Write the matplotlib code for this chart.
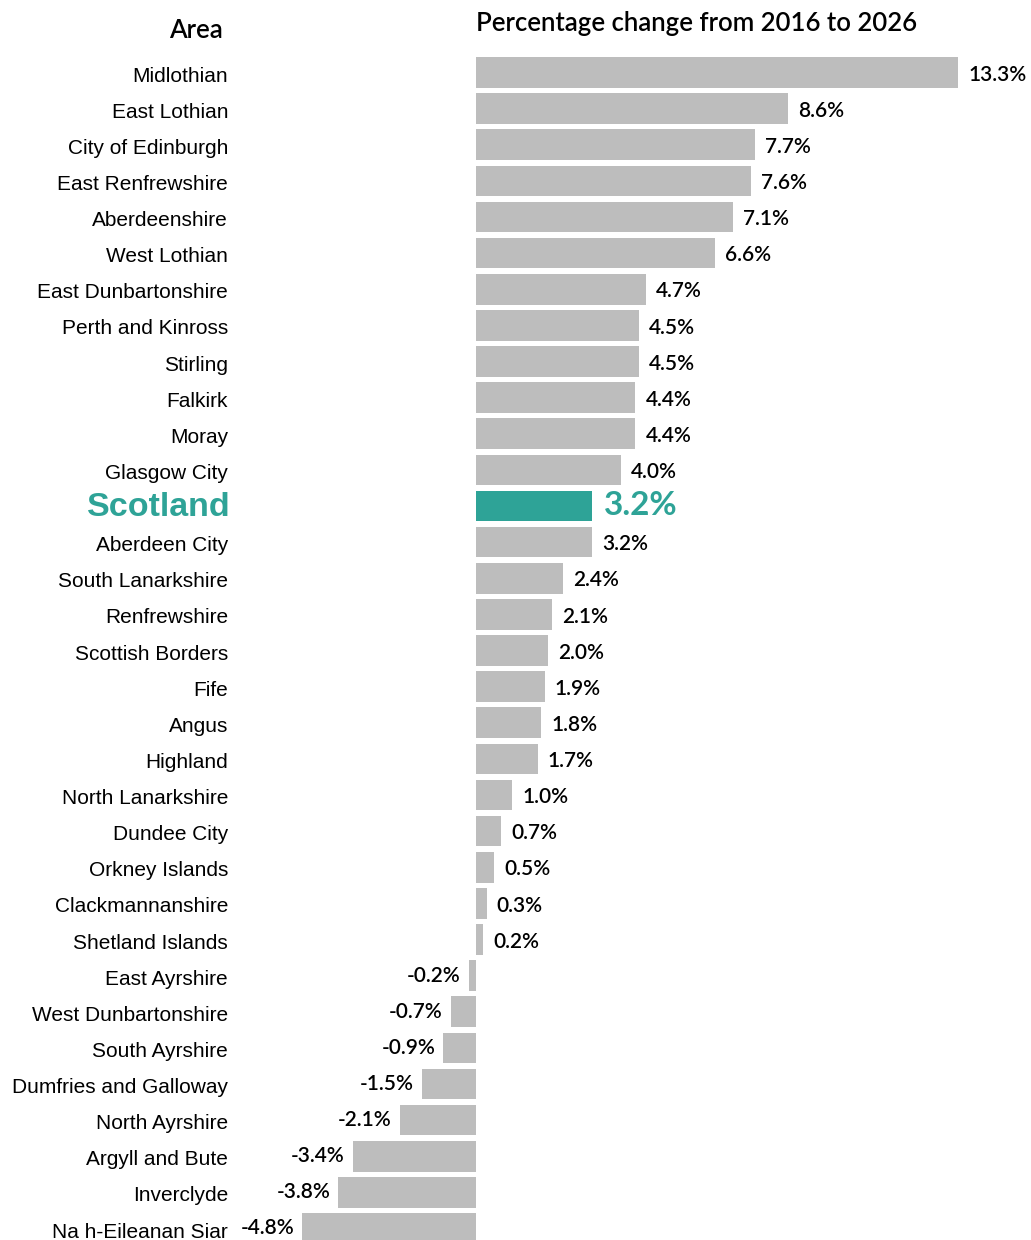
import matplotlib
matplotlib.use('Agg')
import matplotlib.pyplot as plt
import numpy as np

# data
areas = ['Midlothian', 'East Lothian', 'City of Edinburgh', 'East Renfrewshire',
         'Aberdeenshire', 'West Lothian', 'East Dunbartonshire', 'Perth and Kinross',
         'Stirling', 'Falkirk', 'Moray', 'Glasgow City', 'Scotland', 'Aberdeen City',
         'South Lanarkshire', 'Renfrewshire', 'Scottish Borders', 'Fife', 'Angus',
         'Highland', 'North Lanarkshire', 'Dundee City', 'Orkney Islands',
         'Clackmannanshire', 'Shetland Islands', 'East Ayrshire', 'West Dunbartonshire',
         'South Ayrshire', 'Dumfries and Galloway', 'North Ayrshire', 'Argyll and Bute',
         'Inverclyde', 'Na h-Eileanan Siar']
change = [13.3, 8.6, 7.7, 7.6, 7.1, 6.6, 4.7, 4.5, 4.5, 4.4, 4.4, 4.0, 3.2, 3.2,
          2.4, 2.1, 2.0, 1.9, 1.8, 1.7, 1.0, 0.7, 0.5, 0.3, 0.2, -0.2, -0.7, -0.9,
          -1.5, -2.1, -3.4, -3.8, -4.8]
highlight = 'Scotland'

grey = '#bdbdbd'
teal = '#2ea397'
W, H = 1031, 1240
px_per_unit = 36.24
zero_px = 476
row_px = 36.125
first_row_px = 72.5

fig = plt.figure(figsize=(W / 100, H / 100), dpi=100)
ax = fig.add_axes([0, 0, 1, 1])
ax.set_xlim(-zero_px / px_per_unit, (W - zero_px) / px_per_unit)
ax.set_ylim((H - first_row_px) / row_px, -first_row_px / row_px)
ax.axis('off')

y = np.arange(len(areas))
colors = [teal if a == highlight else grey for a in areas]
ax.barh(y, change, height=0.85, color=colors)

lab_x = 228 / W
off = 10 / px_per_unit
for i, (a, v) in enumerate(zip(areas, change)):
    txt = f'{v:.1f}%'
    if a == highlight:
        ax.text(lab_x + 3 / W, i + 0.04, a, transform=ax.get_yaxis_transform(), ha='right',
                va='center', fontsize=24.5, fontweight='bold', color=teal,
                family='Liberation Sans')
        ax.text(v + 12 / px_per_unit, i, txt, ha='left', va='center', fontsize=24,
                fontweight='bold', color=teal, family='Lato')
        continue
    ax.text(lab_x, i + 0.1, a, transform=ax.get_yaxis_transform(), ha='right',
            va='center', fontsize=15, color='black', family='Liberation Sans')
    if v >= 0:
        ax.text(v + off, i + 0.06, txt, ha='left', va='center', fontsize=15,
                fontweight='semibold', color='black', family='Lato')
    else:
        ax.text(v - 8 / px_per_unit, i, txt, ha='right', va='center', fontsize=15,
                fontweight='semibold', color='black', family='Lato')

fig.text(196 / W, 1 - 30 / H, 'Area', ha='center', va='center', fontsize=18.5,
         fontweight='semibold', family='Lato', color='black')
fig.text(476 / W, 1 - 23 / H, 'Percentage change from 2016 to 2026', ha='left',
         va='center', fontsize=18.5, fontweight='semibold', family='Lato', color='black')

fig.savefig('out.png', dpi=100)
